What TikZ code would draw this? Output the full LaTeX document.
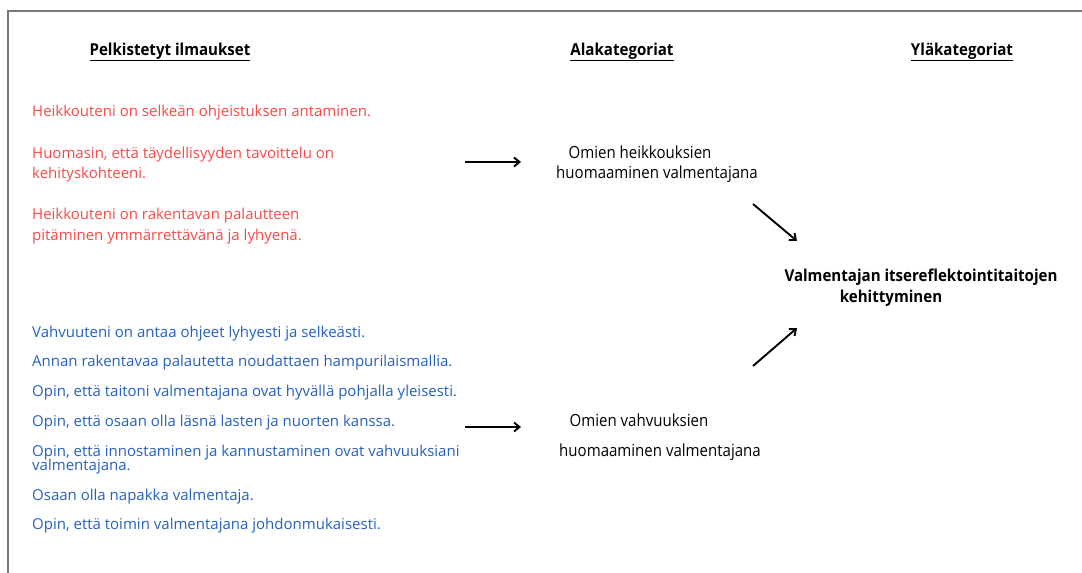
\documentclass[tikz,border=0pt]{standalone}
\usepackage{fontspec}
\setmainfont{Open Sans}
\newfontfamily\condfont[FakeStretch=0.92]{Open Sans}
\newfontfamily\midfont[FakeStretch=0.9]{Open Sans}
\usetikzlibrary{arrows.meta}
\definecolor{redtxt}{RGB}{250,72,72}
\definecolor{bluetxt}{RGB}{38,96,190}
\definecolor{framegray}{RGB}{120,120,120}
\tikzset{
  head/.style={font=\condfont\bfseries\fontsize{16.4}{18}\selectfont, anchor=base, inner sep=0pt},
  redline/.style={font=\fontsize{15}{17}\selectfont, text=redtxt, anchor=base west, inner sep=0pt},
  blueline/.style={font=\fontsize{15}{17}\selectfont, text=bluetxt, anchor=base west, inner sep=0pt},
  midtxt/.style={font=\midfont\fontsize{16.7}{19}\selectfont, anchor=base, inner sep=0pt},
  toptxt/.style={font=\condfont\bfseries\fontsize{16.4}{18}\selectfont, anchor=base, inner sep=0pt},
  arr/.style={line width=1.9pt, -{Straight Barb[length=5.5pt,width=9pt]}},
}
\begin{document}
\begin{tikzpicture}[x=1pt,y=-1pt]
\useasboundingbox (0,0) rectangle (1082,573);
\draw[framegray, line width=1.2pt] (8,573) -- (8,11) -- (1082,11);
% headers
\node[head] (h1) at (170,55) {\underline{Pelkistetyt ilmaukset}};
\node[head] (h2) at (622,55) {\underline{Alakategoriat}};
\node[head] (h3) at (962,55) {\underline{Yläkategoriat}};
% red
\node[redline] (r1) at (32,116) {Heikkouteni on selkeän ohjeistuksen antaminen.};
\node[redline] (r2) at (32,158) {Huomasin, että täydellisyyden tavoittelu on};
\node[redline] (r3) at (32,178) {kehityskohteeni.};
\node[redline] (r4) at (32,219) {Heikkouteni on rakentavan palautteen};
\node[redline] (r5) at (32,240) {pitäminen ymmärrettävänä ja lyhyenä.};
% blue
\node[blueline] (b1) at (32,337) {Vahvuuteni on antaa ohjeet lyhyesti ja selkeästi.};
\node[blueline] (b2) at (32,366) {Annan rakentavaa palautetta noudattaen hampurilaismallia.};
\node[blueline] (b3) at (32,396) {Opin, että taitoni valmentajana ovat hyvällä pohjalla yleisesti.};
\node[blueline] (b4) at (32,426) {Opin, että osaan olla läsnä lasten ja nuorten kanssa.};
\node[blueline] (b5) at (32,456) {Opin, että innostaminen ja kannustaminen ovat vahvuuksiani};
\node[blueline] (b6) at (32,470) {valmentajana.};
\node[blueline] (b7) at (32,500) {Osaan olla napakka valmentaja.};
\node[blueline] (b8) at (32,529) {Opin, että toimin valmentajana johdonmukaisesti.};
% middle
\node[midtxt] (m1) at (640,158) {Omien heikkouksien};
\node[midtxt] (m2) at (657,178) {huomaaminen valmentajana};
\node[midtxt] (m3) at (639,426) {Omien vahvuuksien};
\node[midtxt] (m4) at (660,456) {huomaaminen valmentajana};
% top category
\node[toptxt] (t1) at (921,281) {Valmentajan itsereflektointitaitojen};
\node[toptxt] (t2) at (891,302) {kehittyminen};
% arrows
\coordinate (a1s) at (465,162);
\coordinate (a1e) at (521,162);
\coordinate (a2s) at (465,427);
\coordinate (a2e) at (521,427);
\coordinate (a3s) at (753,204);
\coordinate (a3e) at (797,241);
\coordinate (a4s) at (753,366);
\coordinate (a4e) at (797,328);
\draw[arr] (a1s) -- (a1e);
\draw[arr] (a2s) -- (a2e);
\draw[arr] (a3s) -- (a3e);
\draw[arr] (a4s) -- (a4e);
\end{tikzpicture}
\end{document}
